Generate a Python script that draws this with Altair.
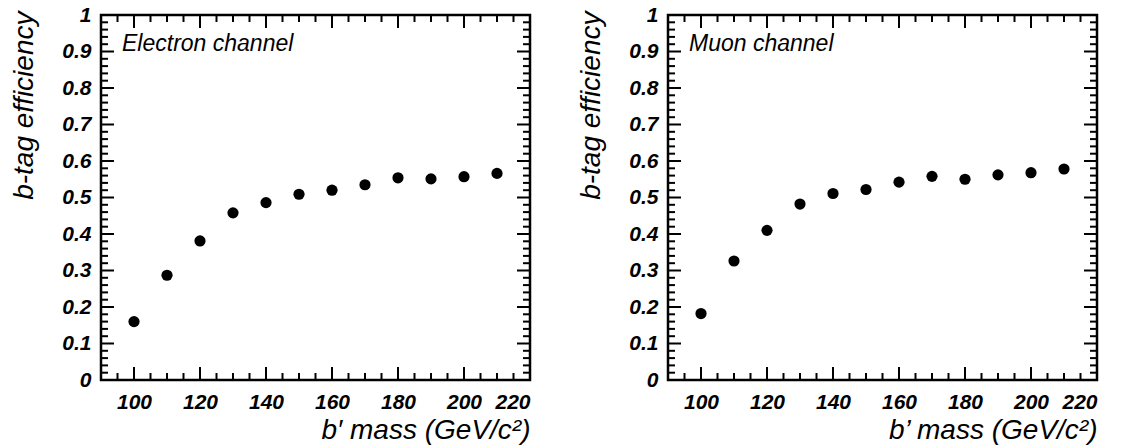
import altair as alt
import numpy as np
import pandas as pd

# ---- data ----
mass = [100, 110, 120, 130, 140, 150, 160, 170, 180, 190, 200, 210]
eff_electron = [0.160, 0.287, 0.381, 0.458, 0.486, 0.509, 0.520, 0.535, 0.554, 0.551, 0.557, 0.566]
eff_muon = [0.182, 0.326, 0.410, 0.482, 0.511, 0.522, 0.542, 0.558, 0.550, 0.562, 0.568, 0.578]

x_major = [100, 120, 140, 160, 180, 200, 220]
x_minor = [v for v in np.arange(95, 221, 5).tolist() if v not in x_major]
y_major = [0, 0.1, 0.2, 0.3, 0.4, 0.5, 0.6, 0.7, 0.8, 0.9, 1.0]
y_minor = [round(v, 2) for v in np.arange(0.02, 1.0, 0.02).tolist() if round(v * 10, 6) % 1 != 0]

X_DOMAIN = [90, 220]
Y_DOMAIN = [0, 1]

W, H = 429, 365
FONT = "Liberation Sans"
MAJ, MIN = 13, 7
LABEL_FS = 21
TITLE_FS = 28


def xs():
    return alt.Scale(domain=X_DOMAIN, nice=False, zero=False)


def ys():
    return alt.Scale(domain=Y_DOMAIN, nice=False, zero=False)


def x_axis(xtitle):
    return alt.Axis(
        values=x_major, format="d", ticks=False, domain=False, grid=False,
        labelPadding=11, labelFont=FONT, labelFontSize=LABEL_FS, labelFontStyle="italic",
        labelFontWeight="bold", labelColor="black",
        title=xtitle, titleFont=FONT, titleFontSize=TITLE_FS, titleFontStyle="italic",
        titleFontWeight="normal", titleColor="black", titleAlign="right",
        titleX=W, titleY=58, titleBaseline="alphabetic", titleAngle=0)


def y_axis():
    return alt.Axis(
        values=y_major, format="~g", ticks=False, domain=False, grid=False,
        labelPadding=10, labelFont=FONT, labelFontSize=LABEL_FS, labelFontStyle="italic",
        labelFontWeight="bold", labelColor="black",
        title="b-tag efficiency", titleFont=FONT, titleFontSize=TITLE_FS,
        titleFontStyle="italic", titleFontWeight="normal", titleColor="black",
        titleAngle=270, titleAlign="right", titleBaseline="middle",
        titleX=-77, titleY=-4)


def panel(eff, label, xtitle):
    XA = x_axis(xtitle)
    YA = y_axis()
    df = pd.DataFrame({"mass": mass, "eff": eff})
    pts = alt.Chart(df).mark_circle(size=125, opacity=1, color="black").encode(
        x=alt.X("mass:Q", scale=xs(), axis=XA),
        y=alt.Y("eff:Q", scale=ys(), axis=YA),
    )

    layers = [pts]
    for vals, ln in ((y_major, MAJ), (y_minor, MIN)):
        d = pd.DataFrame({"eff": vals})
        layers.append(alt.Chart(d).mark_rule(color="black", strokeWidth=2).encode(
            y=alt.Y("eff:Q", scale=ys(), axis=YA), x=alt.value(0), x2=alt.value(ln)))
        layers.append(alt.Chart(d).mark_rule(color="black", strokeWidth=2).encode(
            y=alt.Y("eff:Q", scale=ys(), axis=YA), x=alt.value(W), x2=alt.value(W - ln)))
    for vals, ln in ((x_major, MAJ), (x_minor, MIN)):
        d = pd.DataFrame({"mass": vals})
        layers.append(alt.Chart(d).mark_rule(color="black", strokeWidth=2).encode(
            x=alt.X("mass:Q", scale=xs(), axis=XA), y=alt.value(H), y2=alt.value(H - ln)))
        layers.append(alt.Chart(d).mark_rule(color="black", strokeWidth=2).encode(
            x=alt.X("mass:Q", scale=xs(), axis=XA), y=alt.value(0), y2=alt.value(ln)))

    txt = alt.Chart(pd.DataFrame({"t": [label]})).mark_text(
        align="left", baseline="alphabetic", font=FONT, fontSize=23,
        fontStyle="italic", color="black").encode(
        text="t:N", x=alt.value(21), y=alt.value(36))
    layers.append(txt)
    return alt.layer(*layers).properties(width=W, height=H)


left = panel(eff_electron, "Electron channel", "b\u2032 mass (GeV/c\u00b2)")
right = panel(eff_muon, "Muon channel", "b\u2019 mass (GeV/c\u00b2)")

chart = alt.hconcat(left, right, spacing=138, bounds="flush").properties(
    padding={"left": 8, "top": 2, "right": 5, "bottom": 5},
    background="white",
).configure_view(stroke="black", strokeWidth=2.5)

chart.save("out.html", embed_options={"renderer": "svg", "actions": False})
